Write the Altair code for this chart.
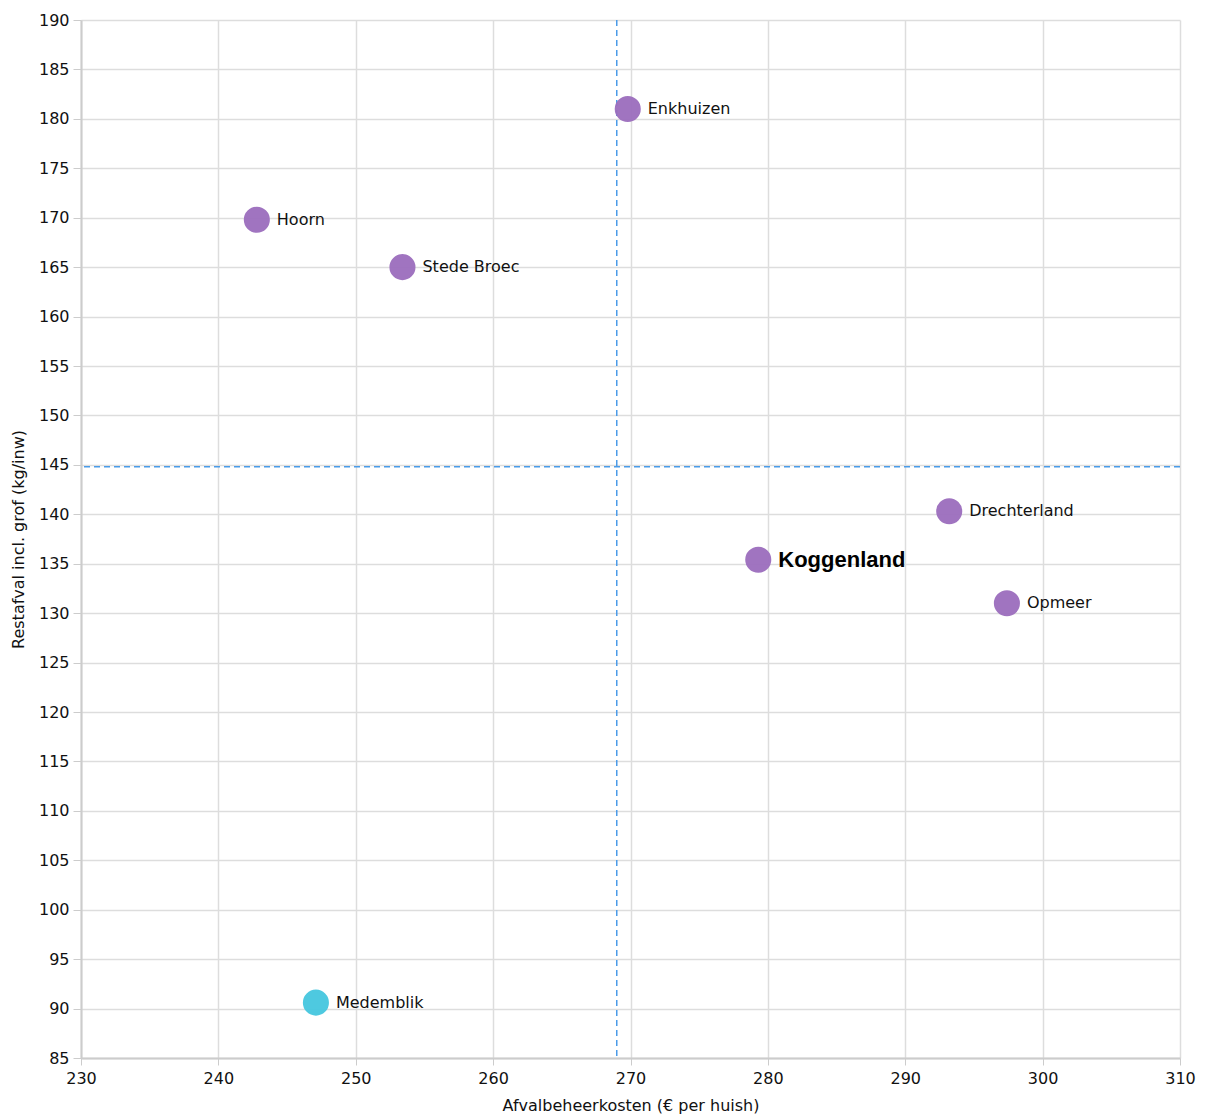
import altair as alt
import pandas as pd

names = ["Enkhuizen", "Hoorn", "Stede Broec", "Drechterland", "Koggenland", "Opmeer", "Medemblik"]
kosten = [269.8, 242.8, 253.4, 293.2, 279.3, 297.4, 247.1]
restafval = [181.0, 169.8, 165.0, 140.3, 135.4, 131.0, 90.6]
groep = ["a", "a", "a", "a", "a", "a", "b"]
highlight = [False, False, False, False, True, False, False]

avg_x = [269.0]
avg_y = [144.8]

df = pd.DataFrame({"name": names, "x": kosten, "y": restafval, "groep": groep, "hl": highlight})
df_vx = pd.DataFrame({"x": avg_x})
df_hy = pd.DataFrame({"y": avg_y})

FONT = "DejaVu Sans"

xscale = alt.Scale(domain=[230, 310], nice=False, zero=False)
yscale = alt.Scale(domain=[85, 190], nice=False, zero=False)

base = alt.Chart(df)

points = base.mark_circle(size=680, opacity=0.95).encode(
    x=alt.X("x:Q", scale=xscale,
            axis=alt.Axis(title="Afvalbeheerkosten (€ per huish)", values=list(range(230, 311, 10)),
                          format="d", tickSize=7, labelPadding=5, titlePadding=11)),
    y=alt.Y("y:Q", scale=yscale,
            axis=alt.Axis(title="Restafval incl. grof (kg/inw)", values=list(range(85, 191, 5)),
                          format="d", tickSize=8, labelPadding=4, titlePadding=12)),
    color=alt.Color("groep:N", scale=alt.Scale(domain=["a", "b"], range=["#9b6dbd", "#45c6de"]), legend=None),
)

labels = base.transform_filter("!datum.hl").mark_text(
    align="left", baseline="middle", dx=20, fontSize=16, font=FONT, color="#111"
).encode(x="x:Q", y="y:Q", text="name:N")

hl_label = base.transform_filter("datum.hl").mark_text(
    align="left", baseline="middle", dx=20, fontSize=22, fontWeight="bold", font="Liberation Sans", color="#000"
).encode(x="x:Q", y="y:Q", text="name:N")

vrule = alt.Chart(df_vx).mark_rule(color="#4a9be8", strokeDash=[6, 4], strokeWidth=1.5).encode(x="x:Q")
hrule = alt.Chart(df_hy).mark_rule(color="#4a9be8", strokeDash=[6, 4], strokeWidth=1.5).encode(y="y:Q")

chart = alt.layer(vrule, hrule, points, labels, hl_label).properties(
    width=1099, height=1038,
    autosize=alt.AutoSizeParams(type="none"),
    padding={"left": 73, "top": 12, "right": 17, "bottom": 62}
).configure_axis(
    labelFont=FONT, titleFont=FONT, labelFontSize=16, titleFontSize=16,
    labelColor="#111", titleColor="#111", titleFontWeight="normal",
    gridColor="#dddddd", gridWidth=1.5, domainColor="#cccccc", tickColor="#cccccc", domainWidth=2,
    labelFlush=False
).configure_view(
    stroke=None
)

chart.save("out.html", embed_options={"renderer": "svg", "actions": False})
